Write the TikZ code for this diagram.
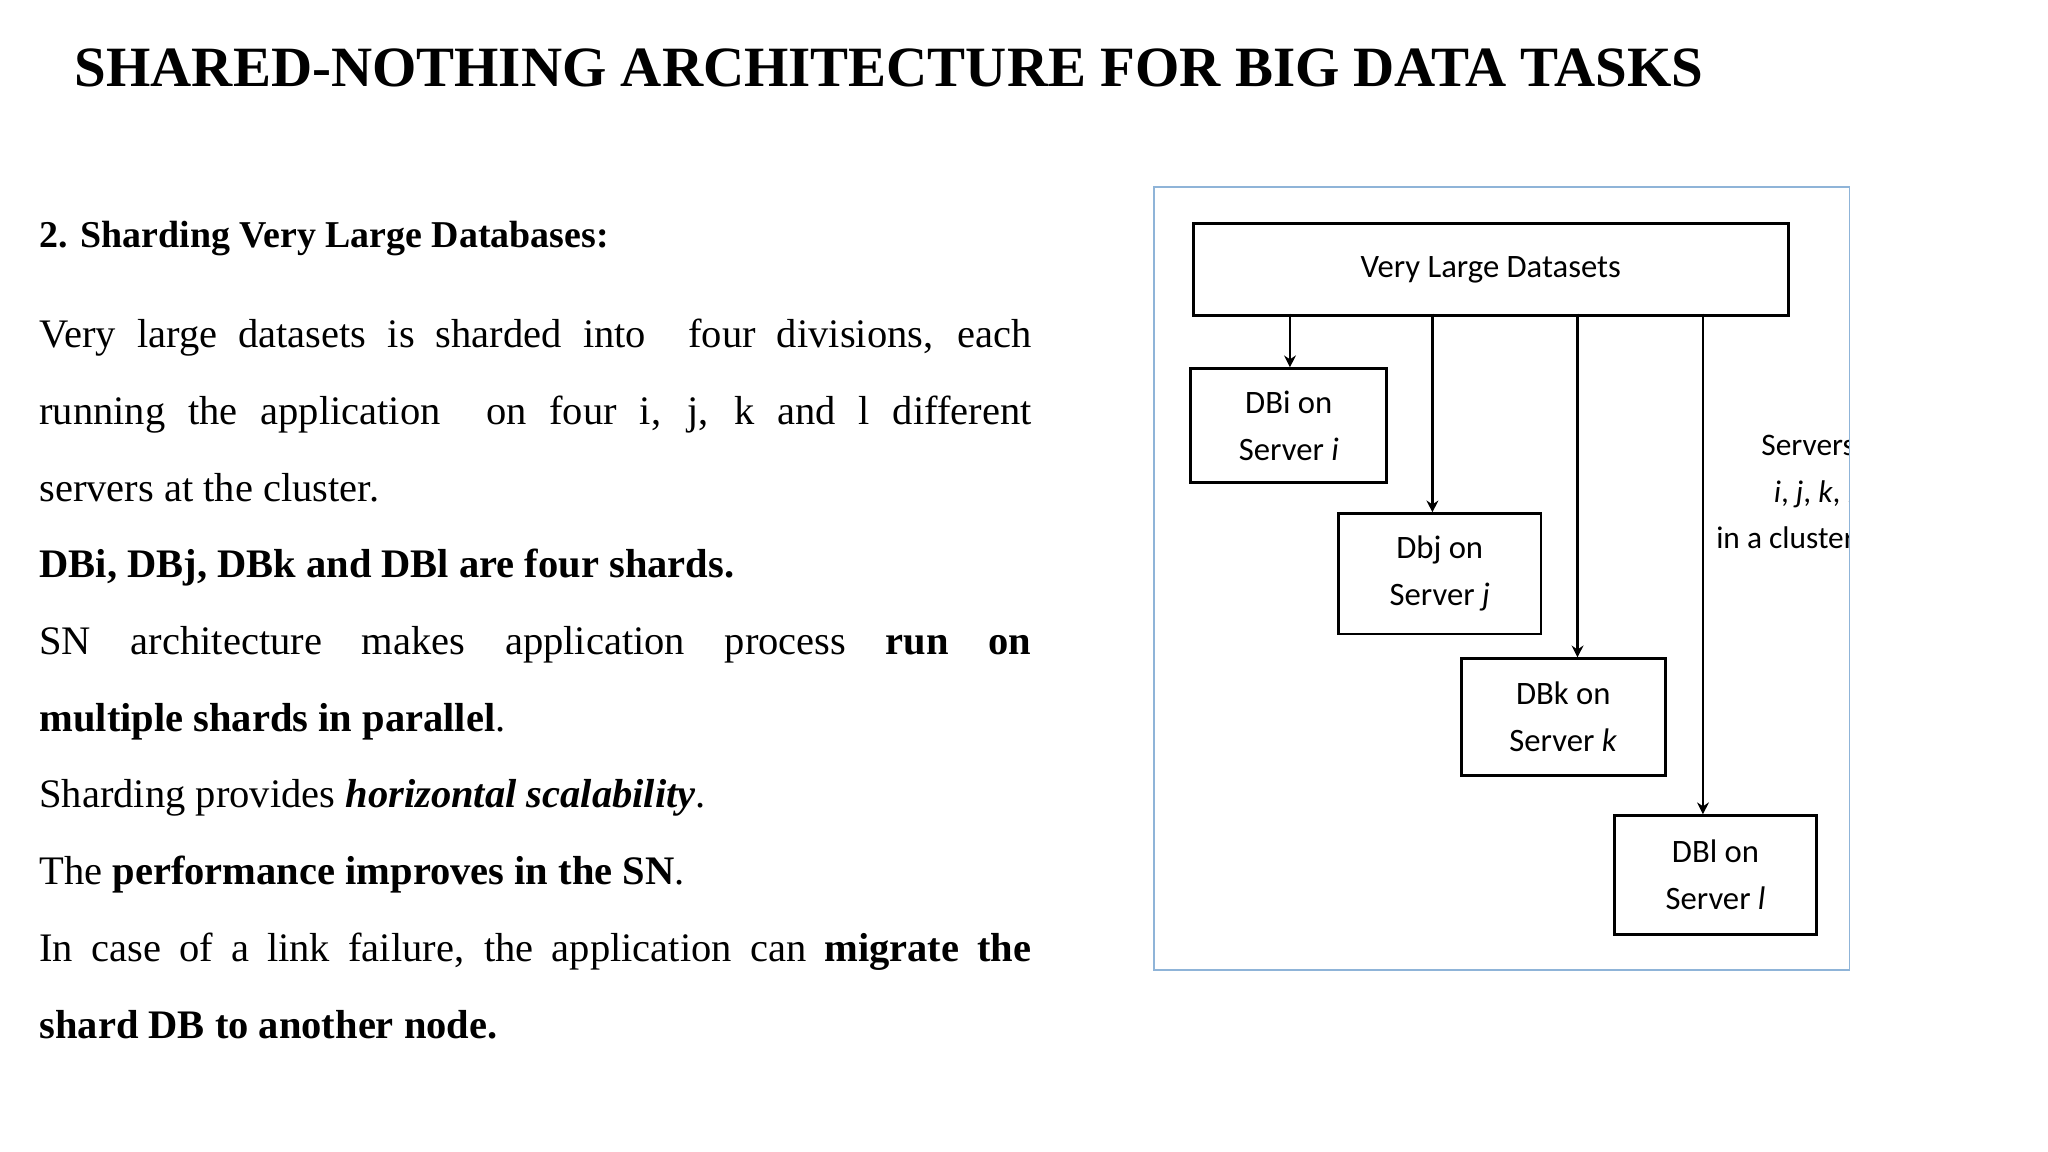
\documentclass[tikz,border=0pt]{standalone}
\usepackage{fontspec}
\setmainfont{Liberation Serif}
\newfontfamily\diag{Carlito}
\usetikzlibrary{arrows.meta}
\begin{document}
\begin{tikzpicture}[x=1pt,y=-1pt,
  box/.style={draw,line width=2.2pt,inner sep=0pt,font=\diag\fontsize{25}{36}\selectfont,align=center,anchor=north west},
  arr/.style={line width=2pt,-{Stealth[length=9pt,width=9pt]}}]
\useasboundingbox (0,0) rectangle (1567,881);
\node[anchor=base west,inner sep=0pt,font=\bfseries\fontsize{43.6}{50}\selectfont] (title) at (57,66) {SHARED-NOTHING ARCHITECTURE FOR BIG DATA TASKS};
\node[anchor=base west,inner sep=0pt,font=\bfseries\fontsize{29}{30}\selectfont] (sub) at (30,189) {2. Sharding Very Large Databases:};
\node[anchor=north west,inner sep=0pt,text width=759pt,align=justify,font=\fontsize{31}{58.7}\selectfont] (body) at (30,244) {%
Very large datasets is sharded into\ \ four divisions, each\linebreak running the application\ \ on four i, j, k and l different\linebreak servers at the cluster.\par
\textbf{DBi, DBj, DBk and DBl are four shards.}\par
SN architecture makes application process \textbf{run on\linebreak multiple shards in parallel}.\par
Sharding provides \textbf{\textit{horizontal scalability}}.\par
The \textbf{performance improves in the SN}.\par
In case of a link failure, the application can \textbf{migrate the\linebreak shard DB to another node.}};
% diagram
\draw[color={rgb,255:red,143;green,180;blue,216},line width=1.2pt] (883,143) rectangle (1415,742);
\node[box,minimum width=455pt,minimum height=70pt] (top) at (912,170) {Very Large Datasets};
\node[box,minimum width=150pt,minimum height=87pt] (dbi) at (910,281) {DBi on\\Server \textit{i}};
\node[box,minimum width=155pt,minimum height=92pt] (dbj) at (1023,392) {Dbj on\\Server \textit{j}};
\node[box,minimum width=156pt,minimum height=89pt] (dbk) at (1117,503) {DBk on\\Server \textit{k}};
\node[box,minimum width=155pt,minimum height=91pt] (dbl) at (1234,623) {DBl on\\Server \textit{l}};
\coordinate (a1) at (987,240);
\coordinate (a2) at (1096,240);
\coordinate (a3) at (1207,240);
\coordinate (a4) at (1303,240);
\draw[arr] (a1) -- (a1 |- dbi.north);
\draw[arr] (a2) -- (a2 |- dbj.north);
\draw[arr] (a3) -- (a3 |- dbk.north);
\draw[arr] (a4) -- (a4 |- dbl.north);
\begin{scope}
\clip (883,143) rectangle (1414,742);
\node[anchor=north west,inner sep=0pt,align=right,font=\diag\fontsize{24}{35.5}\selectfont] (srv) at (1313,333) {Servers\\\textit{i}, \textit{j}, \textit{k}, \textit{l}\\in a cluster};
\end{scope}
\end{tikzpicture}
\end{document}
